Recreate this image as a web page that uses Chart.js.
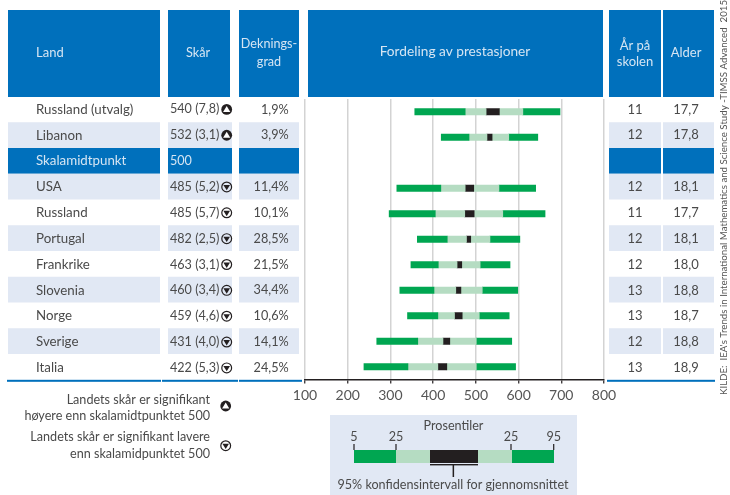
<!DOCTYPE html>
<html lang="no"><head><meta charset="utf-8">
<style>html,body{margin:0;padding:0;background:#fff}#c{display:block}</style>
<script src="https://cdn.jsdelivr.net/npm/chart.js@4"></script></head>
<body><div style="width:730px;height:495px"><canvas id="c" width="730" height="495"></canvas></div>
<script>
const countries=["Russland (utvalg)","Libanon","Skalamidtpunkt","USA","Russland","Portugal","Frankrike","Slovenia","Norge","Sverige","Italia"];
const scores=["540 (7,8)","532 (3,1)","500","485 (5,2)","485 (5,7)","482 (2,5)","463 (3,1)","460 (3,4)","459 (4,6)","431 (4,0)","422 (5,3)"];
const signif=["up","up",null,"down","down","down","down","down","down","down","down"];
const coverage=["1,9%","3,9%","","11,4%","10,1%","28,5%","21,5%","34,4%","10,6%","14,1%","24,5%"];
const years=["11","12","","12","11","12","12","13","13","12","13"];
const ages=["17,7","17,8","","18,1","17,7","18,1","18,0","18,8","18,7","18,8","18,9"];
const p5=[357,419,null,315,297,363,348,322,340,268,238];
const p25=[475,484,null,418,405,433,412,402,411,364,341];
const ciLow=[524,526,null,475,474,478,456,453,450,423,411];
const ciHigh=[555,538,null,495,496,488,467,465,468,439,432];
const p75=[610,577,null,554,563,533,510,515,508,501,501];
const p95=[697,645,null,640,662,603,580,598,578,584,593];
const xTicks=[100,200,300,400,500,600,700,800];
const sourceText="KILDE:  IEA's Trends in International Mathematics and Science Study -TIMSS Advanced  2015";

const BLUE="#0070bc",BAND="#e1e8f4",TXT="#4a4a4a",HEAD="#d5e5f3",GREEN="#00a651",LIGHT="#b5dcc2",BLACK="#231f20";
const FONT='Lato, sans-serif';
const seg=(a,b)=>countries.map((_,i)=>a[i]==null?null:[a[i],b[i]]);
const ds=(a,b,c)=>({data:seg(a,b),backgroundColor:c,barThickness:6.5,grouped:false,borderWidth:0});

function icon(ctx,x,y,dir){
  ctx.save();
  if(dir==="up"){
    ctx.fillStyle=BLACK;ctx.beginPath();ctx.arc(x,y,5.4,0,7);ctx.fill();
    ctx.fillStyle="#fff";ctx.beginPath();ctx.moveTo(x,y-3.4);ctx.lineTo(x+3.6,y+2.6);ctx.lineTo(x-3.6,y+2.6);ctx.closePath();ctx.fill();
  }else{
    ctx.strokeStyle=BLACK;ctx.lineWidth=1.2;ctx.beginPath();ctx.arc(x,y,4.9,0,7);ctx.stroke();
    ctx.fillStyle=BLACK;ctx.beginPath();ctx.moveTo(x-3.3,y-2);ctx.lineTo(x+3.3,y-2);ctx.lineTo(x,y+3.4);ctx.closePath();ctx.fill();
  }
  ctx.restore();
}
function text(ctx,s,x,y,align,color,size){
  ctx.font=(size||13)+"px "+FONT;ctx.textAlign=align||"left";ctx.textBaseline="middle";ctx.fillStyle=color||TXT;ctx.fillText(s,x,y);
}
const tablePlugin={id:"table",beforeDraw(chart){
  const ctx=chart.ctx;ctx.save();
  ctx.fillStyle=BLUE;
  [[8,152],[168,62],[239,60],[308,295],[609,52],[663,51]].forEach(h=>ctx.fillRect(h[0],10,h[1],87));
  text(ctx,"Land",36,53,"left",HEAD);
  text(ctx,"Skår",198,53,"center",HEAD,12.7);
  text(ctx,"Deknings-",269,44,"center",HEAD,12.6);
  text(ctx,"grad",269,62,"center",HEAD,12.6);
  text(ctx,"Fordeling av prestasjoner",455,52,"center",HEAD,13.7);
  text(ctx,"År på",635,46,"center",HEAD);
  text(ctx,"skolen",635,62,"center",HEAD);
  text(ctx,"Alder",686,53,"center",HEAD);
  const cols=[[8,152],[168,64],[239,60],[609,52],[663,51]];
  const rowTop=96.5,rowH=25.75;
  countries.forEach((c,i)=>{
    const mid=i===2;
    const y=rowTop+i*rowH,ty=109.4+i*25.85;
    if(mid||i===1||i===3||i===5||i===7||i===9){ctx.fillStyle=mid?BLUE:BAND;cols.forEach(k=>ctx.fillRect(k[0],y,k[1],rowH));}
    const col=mid?HEAD:TXT;
    text(ctx,c,36,ty,"left",col,13.3);
    text(ctx,scores[i],170,ty,"left",col,12.6);
    if(signif[i])icon(ctx,226.7,ty,signif[i]);
    text(ctx,coverage[i],288.7,ty,"right",col,12.7);
    text(ctx,years[i],635,ty,"center",col);
    text(ctx,ages[i],686,ty,"center",col);
  });
  ctx.fillStyle=BLUE;[[7,154],[162,76],[239,63],[607,108]].forEach(s=>ctx.fillRect(s[0],379.8,s[1],2));
  // left key
  text(ctx,"Landets skår er signifikant",210,400,"right",TXT,12.6);
  text(ctx,"høyere enn skalamidtpunktet 500",210,416,"right",TXT,12.6);
  text(ctx,"Landets skår er signifikant lavere",210,437,"right",TXT,12.6);
  text(ctx,"enn skalamidpunktet 500",210,454,"right",TXT,12.6);
  icon(ctx,225.7,406,"up");icon(ctx,225.7,445.7,"down");
  // percentile key
  ctx.fillStyle=BAND;ctx.fillRect(330,415,247,80);
  text(ctx,"Prosentiler",453.5,425.5,"center",TXT,12.6);
  [["5",354],["25",396],["25",511],["95",553.7]].forEach(l=>{
    text(ctx,l[0],l[1],436.7,"center",TXT,12.6);
    ctx.fillStyle=BLACK;ctx.fillRect(l[1]-.6,444,1.2,6);
  });
  [[354,396,GREEN],[396,430,LIGHT],[430,478,BLACK],[478,512,LIGHT],[512,554,GREEN]].forEach(s=>{ctx.fillStyle=s[2];ctx.fillRect(s[0],450,s[1]-s[0],13);});
  ctx.fillStyle=BLACK;ctx.fillRect(430,464,48,1.4);ctx.fillRect(452.6,464,1.5,13);
  text(ctx,"95% konfidensintervall for gjennomsnittet",453,485,"center",TXT,12.6);
  // source
  ctx.translate(724,395);ctx.rotate(-Math.PI/2);
  text(ctx,sourceText,0,0,"left","#555",9.7);
  ctx.restore();
}};
new Chart(document.getElementById("c"),{
  type:"bar",
  data:{labels:countries,datasets:[
    ds(p5,p25,GREEN),ds(p25,ciLow,LIGHT),ds(ciLow,ciHigh,BLACK),ds(ciHigh,p75,LIGHT),ds(p75,p95,GREEN)
  ]},
  options:{
    indexAxis:"y",responsive:false,animation:false,devicePixelRatio:1,
    layout:{padding:{left:305,right:126,top:99,bottom:0}},
    plugins:{legend:{display:false},tooltip:{enabled:false}},
    scales:{
      y:{display:false,grid:{display:false}},
      x:{min:100,max:800,afterBuildTicks:s=>{s.ticks=xTicks.map(v=>({value:v}));},
        grid:{color:"#d3d3d3",lineWidth:1.5,tickLength:4,tickColor:BLACK,tickWidth:1.2},
        border:{color:BLACK,width:1.4},
        afterFit:s=>{s.height=115.5;},
        ticks:{color:"#555",font:{family:FONT,size:14},padding:4,maxRotation:0,autoSkip:false}}
    }
  },
  plugins:[tablePlugin]
});
</script></body></html>
